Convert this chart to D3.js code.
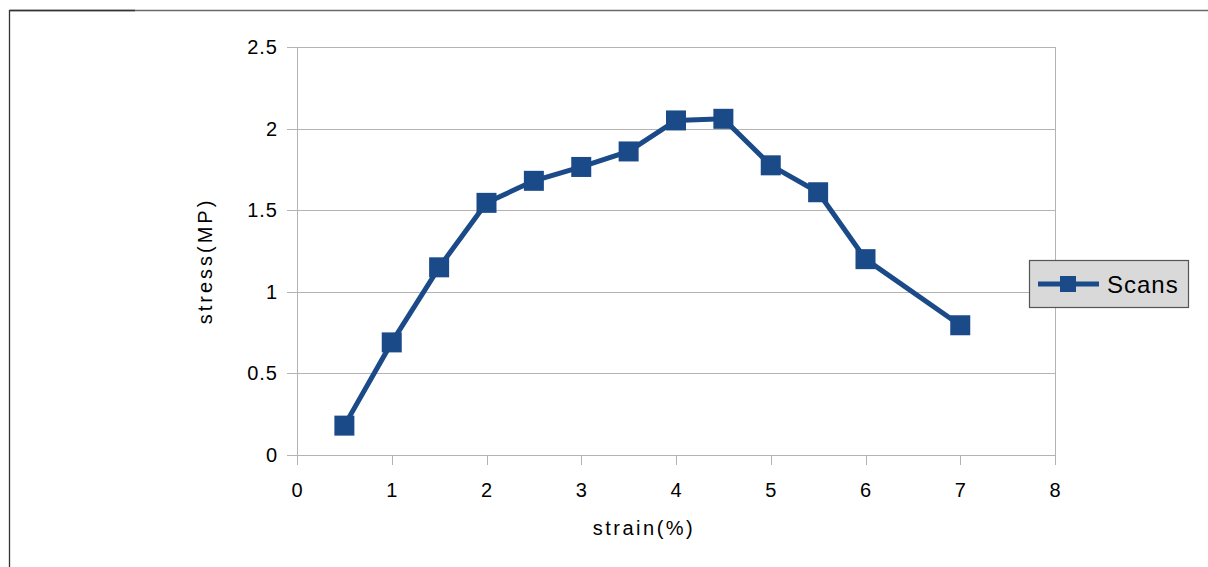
<!DOCTYPE html>
<html><head><meta charset="utf-8">
<script src="https://cdn.jsdelivr.net/npm/d3@7"></script>
<style>body{margin:0;background:#fff}svg{display:block}text{font-family:"Liberation Sans",Arial,sans-serif;fill:#000}</style>
</head><body><svg id="c" width="1208" height="567"></svg>
<script>
const strain = [0.5, 1, 1.5, 2, 2.5, 3, 3.5, 4, 4.5, 5, 5.5, 6, 7];
const stress = [0.18, 0.69, 1.15, 1.545, 1.68, 1.765, 1.86, 2.05, 2.06, 1.775, 1.61, 1.2, 0.795];
const xTicks = [0,1,2,3,4,5,6,7,8];
const yTicks = [0,0.5,1,1.5,2,2.5];
const seriesName = "Scans";
const color = "#1b4a88";

const svg = d3.select("#c");
// outer border
svg.append("line").attr("x1",9.5).attr("x2",1208).attr("y1",10.5).attr("y2",10.5).attr("stroke","#6a6a6a").attr("stroke-width",1.3);
svg.append("line").attr("x1",9.5).attr("x2",135).attr("y1",10.5).attr("y2",10.5).attr("stroke","#333").attr("stroke-width",1.3);
svg.append("line").attr("x1",9.5).attr("x2",9.5).attr("y1",10).attr("y2",567).attr("stroke","#333").attr("stroke-width",1.3);

const x = d3.scaleLinear().domain([0,8]).range([297,1055]);
const y = d3.scaleLinear().domain([0,2.5]).range([455,47]);
const grid = "#b3b3b3";
// gridlines
svg.append("g").selectAll("line").data(yTicks).join("line")
  .attr("x1",287).attr("x2",1055).attr("y1",d=>Math.round(y(d))+0.5).attr("y2",d=>Math.round(y(d))+0.5)
  .attr("stroke",grid).attr("stroke-width",1);
svg.append("line").attr("x1",297.5).attr("x2",297.5).attr("y1",47).attr("y2",465).attr("stroke",grid);
svg.append("line").attr("x1",1055.5).attr("x2",1055.5).attr("y1",47).attr("y2",465).attr("stroke",grid);
svg.append("g").selectAll("line").data(xTicks).join("line")
  .attr("x1",d=>Math.round(x(d))+0.5).attr("x2",d=>Math.round(x(d))+0.5).attr("y1",455).attr("y2",465)
  .attr("stroke",grid);
// tick labels
svg.append("g").selectAll("text").data(yTicks).join("text")
  .attr("x",278).attr("y",d=>y(d)+7).attr("text-anchor","end").style("font-size","20px").style("letter-spacing","1px").text(d=>d);
svg.append("g").selectAll("text").data(xTicks).join("text")
  .attr("x",d=>x(d)).attr("y",497).attr("text-anchor","middle").style("font-size","20px").text(d=>d);
// axis titles
svg.append("text").attr("x",644).attr("y",535).attr("text-anchor","middle").style("font-size","20px").style("letter-spacing","2.5px").text("strain(%)");
svg.append("text").attr("transform","translate(212,261) rotate(-90)").attr("text-anchor","middle").style("font-size","20px").style("letter-spacing","3px").text("stress(MP)");
// series
const data = strain.map((s,i)=>({x:s,y:stress[i]}));
svg.append("path").datum(data).attr("fill","none").attr("stroke",color).attr("stroke-width",5).attr("stroke-linejoin","miter")
  .attr("d",d3.line().x(d=>x(d.x)).y(d=>y(d.y)));
const ms = 20;
svg.append("g").selectAll("rect").data(data).join("rect")
  .attr("x",d=>x(d.x)-ms/2).attr("y",d=>y(d.y)-ms/2).attr("width",ms).attr("height",ms).attr("fill",color);
// legend
const lg = svg.append("g");
lg.append("rect").attr("x",1029.5).attr("y",260.5).attr("width",159).attr("height",47).attr("fill","#d9d9d9").attr("stroke","#555").attr("stroke-width",1.2);
lg.append("line").attr("x1",1038).attr("x2",1099).attr("y1",284).attr("y2",284).attr("stroke",color).attr("stroke-width",5);
lg.append("rect").attr("x",1060).attr("y",276).attr("width",16).attr("height",16).attr("fill",color);
lg.append("text").attr("x",1107).attr("y",293).style("font-size","24px").style("letter-spacing","1px").text(seriesName);
</script></body></html>
